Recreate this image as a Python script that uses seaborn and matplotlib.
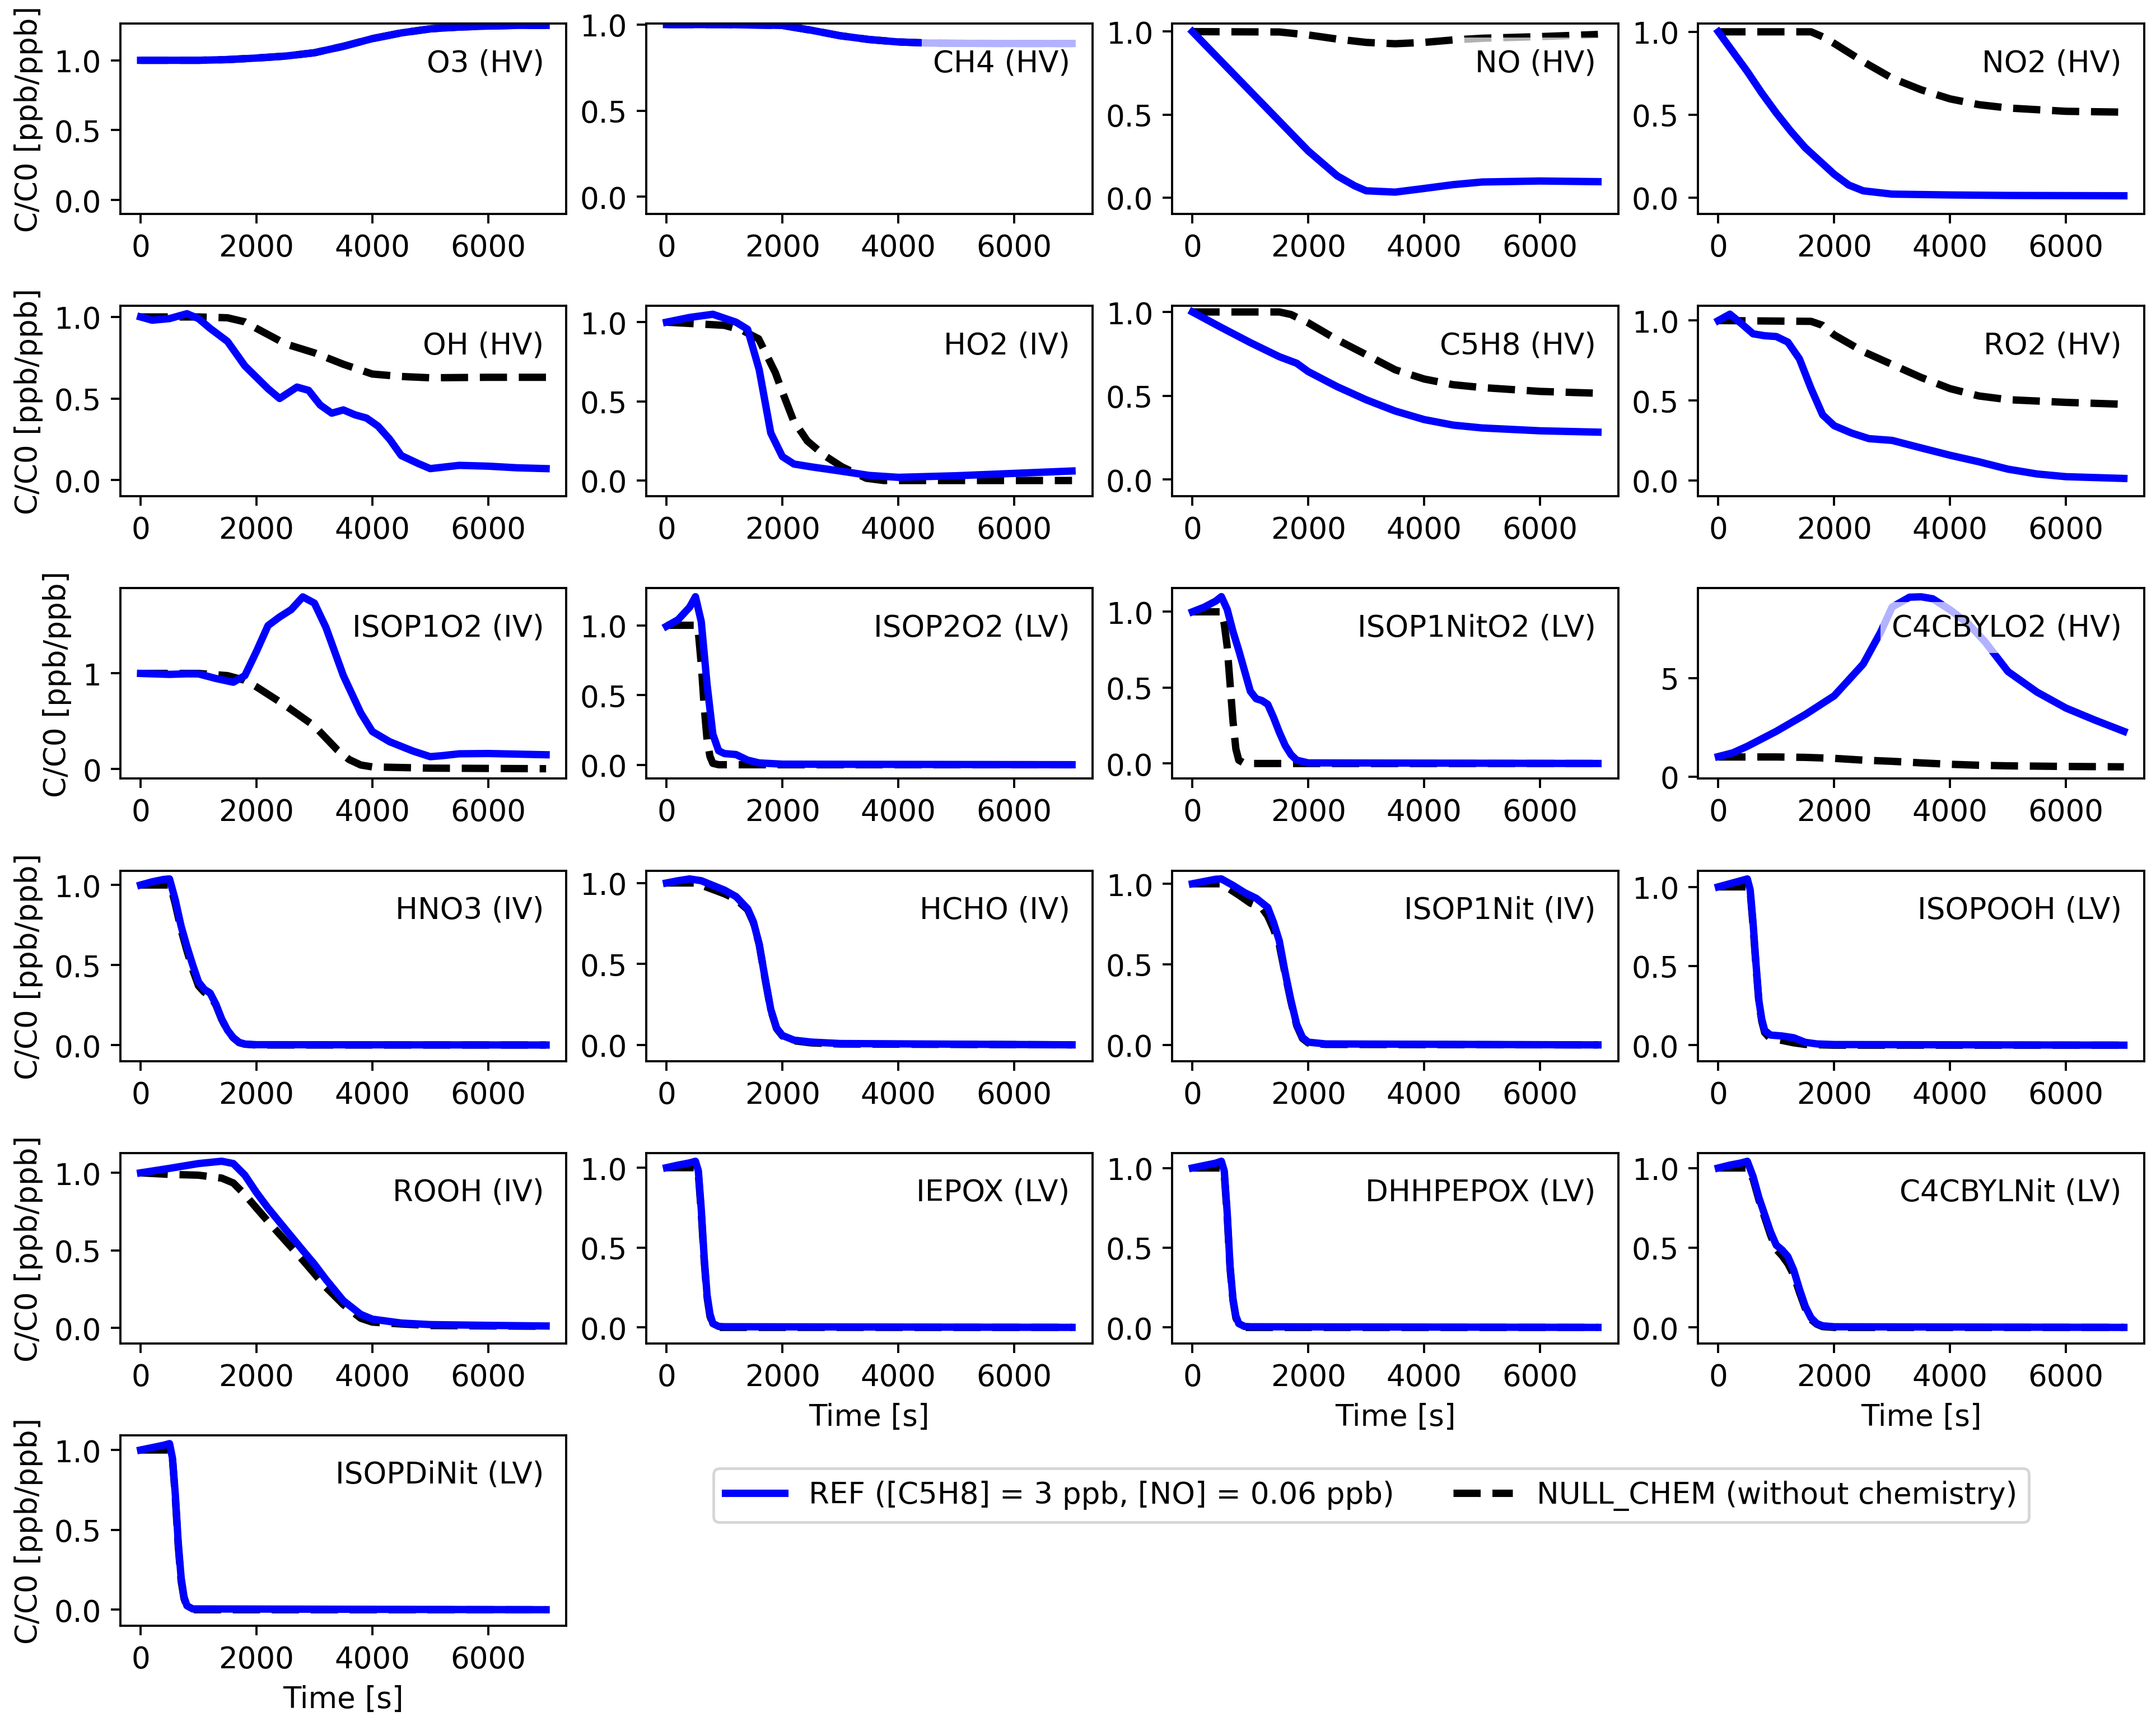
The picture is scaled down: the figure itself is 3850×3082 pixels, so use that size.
import matplotlib
matplotlib.use("Agg")
import matplotlib.pyplot as plt
import seaborn as sns

# ---------------- data ----------------
SPECIES = ["O3", "CH4", "NO", "NO2",
           "OH", "HO2", "C5H8", "RO2",
           "ISOP1O2", "ISOP2O2", "ISOP1NitO2", "C4CBYLO2",
           "HNO3", "HCHO", "ISOP1Nit", "ISOPOOH",
           "ROOH", "IEPOX", "DHHPEPOX", "C4CBYLNit",
           "ISOPDiNit"]
VOLATILITY = ["HV", "HV", "HV", "HV",
              "HV", "IV", "HV", "HV",
              "IV", "LV", "LV", "HV",
              "IV", "IV", "IV", "LV",
              "IV", "LV", "LV", "LV",
              "LV"]

LEGEND_LABELS = ["REF ([C5H8] = 3 ppb, [NO] = 0.06 ppb)", "NULL_CHEM (without chemistry)"]

O3_T_REF = [0, 500, 1000, 1500, 2000, 2500, 3000, 3500, 4000, 4500, 5000, 5500, 6000, 6500, 7000]
O3_REF = [1.0, 1.0, 1.0, 1.005, 1.016, 1.03, 1.054, 1.10, 1.155, 1.196, 1.225, 1.238, 1.245, 1.25, 1.25]
O3_T_NULL = [0, 500, 1000, 1500, 2000, 2500, 3000, 3500, 4000, 4500, 5000, 5500, 6000, 6500, 7000]
O3_NULL = [1.0, 1.0, 1.0, 1.005, 1.016, 1.03, 1.054, 1.10, 1.155, 1.196, 1.225, 1.238, 1.245, 1.25, 1.25]

CH4_T_REF = [0, 1000, 2000, 2500, 3000, 3500, 4000, 4500, 5000, 6000, 7000]
CH4_REF = [1.0, 1.0, 0.995, 0.967, 0.935, 0.913, 0.899, 0.893, 0.891, 0.89, 0.89]
CH4_T_NULL = [0, 1000, 2000, 2500, 3000, 3500, 4000, 4500, 5000, 6000, 7000]
CH4_NULL = [1.0, 1.0, 0.995, 0.967, 0.935, 0.913, 0.899, 0.893, 0.891, 0.89, 0.89]

NO_T_REF = [0, 250, 500, 1000, 1500, 2000, 2500, 2800, 3000, 3500, 4000, 4500, 5000, 6000, 7000]
NO_REF = [1.0, 0.91, 0.82, 0.64, 0.46, 0.28, 0.13, 0.07, 0.04, 0.032, 0.054, 0.077, 0.093, 0.099, 0.095]
NO_T_NULL = [0, 1500, 2000, 2500, 3000, 3500, 4000, 4500, 5000, 6000, 7000]
NO_NULL = [1.0, 0.998, 0.98, 0.955, 0.935, 0.927, 0.935, 0.95, 0.96, 0.97, 0.983]

NO2_T_REF = [0, 250, 500, 750, 1000, 1250, 1500, 1750, 2000, 2250, 2500, 3000, 4000, 5000, 7000]
NO2_REF = [1.0, 0.88, 0.76, 0.63, 0.51, 0.40, 0.30, 0.22, 0.14, 0.075, 0.04, 0.02, 0.015, 0.012, 0.01]
NO2_T_NULL = [0, 1600, 1800, 2000, 2500, 3000, 3500, 4000, 4500, 5000, 6000, 7000]
NO2_NULL = [1.0, 1.0, 0.97, 0.93, 0.82, 0.72, 0.65, 0.595, 0.56, 0.54, 0.52, 0.515]

OH_T_REF = [0, 200, 500, 800, 1000, 1200, 1500, 1800, 2000, 2200, 2400, 2700, 2900, 3100, 3300,
            3500, 3700, 3900, 4100, 4300, 4500, 4800, 5000, 5500, 6000, 6500, 7000]
OH_REF = [1.0, 0.98, 0.99, 1.02, 0.99, 0.93, 0.85, 0.70, 0.63, 0.56, 0.50, 0.57, 0.55, 0.46, 0.41,
          0.43, 0.40, 0.38, 0.33, 0.25, 0.15, 0.10, 0.07, 0.09, 0.085, 0.075, 0.07]
OH_T_NULL = [0, 1000, 1500, 1800, 2000, 2500, 3000, 3500, 4000, 4500, 5000, 6000, 7000]
OH_NULL = [1.0, 1.0, 0.995, 0.97, 0.93, 0.835, 0.78, 0.71, 0.65, 0.635, 0.627, 0.63, 0.63]

HO2_T_REF = [0, 400, 800, 1200, 1400, 1600, 1700, 1800, 2000, 2200, 2500, 3000, 3500, 4000, 5000, 6000, 7000]
HO2_REF = [1.0, 1.03, 1.05, 1.0, 0.955, 0.70, 0.50, 0.30, 0.151, 0.104, 0.086, 0.06, 0.032, 0.02, 0.03, 0.045, 0.06]
HO2_T_NULL = [0, 500, 1000, 1300, 1590, 1880, 2000, 2190, 2430, 2730, 3030, 3450, 3750, 4500, 7000]
HO2_NULL = [1.0, 0.99, 0.98, 0.95, 0.895, 0.68, 0.56, 0.38, 0.25, 0.157, 0.086, 0.014, 0.0, 0.0, 0.0]

C5H8_T_REF = [0, 500, 1000, 1500, 1800, 2000, 2500, 3000, 3500, 4000, 4500, 5000, 6000, 7000]
C5H8_REF = [1.0, 0.907, 0.817, 0.733, 0.694, 0.644, 0.554, 0.476, 0.409, 0.358, 0.325, 0.308, 0.291, 0.283]
C5H8_T_NULL = [0, 1500, 1700, 2000, 2500, 3000, 3500, 4000, 4500, 5000, 6000, 7000]
C5H8_NULL = [1.0, 1.0, 0.985, 0.935, 0.834, 0.745, 0.655, 0.60, 0.566, 0.549, 0.526, 0.515]

RO2_T_REF = [0, 200, 400, 600, 800, 1000, 1200, 1400, 1600, 1800, 2000, 2300, 2600, 3000, 3500,
             4000, 4500, 5000, 5500, 6000, 7000]
RO2_REF = [1.0, 1.04, 0.98, 0.917, 0.905, 0.90, 0.865, 0.76, 0.575, 0.41, 0.342, 0.296, 0.261, 0.25, 0.203,
           0.157, 0.116, 0.07, 0.04, 0.023, 0.012]
RO2_T_NULL = [0, 1600, 1800, 2000, 2500, 3000, 3500, 4000, 4500, 5000, 6000, 7000]
RO2_NULL = [1.0, 0.995, 0.97, 0.91, 0.806, 0.725, 0.644, 0.574, 0.528, 0.505, 0.488, 0.476]

ISOP1O2_T_REF = [0, 500, 800, 1000, 1300, 1600, 1800, 2000, 2200, 2400, 2600, 2800, 3000, 3200, 3500,
                 3800, 4000, 4300, 4700, 5000, 5200, 5500, 6000, 7000]
ISOP1O2_REF = [1.0, 0.99, 0.996, 0.995, 0.947, 0.908, 0.977, 1.23, 1.50, 1.59, 1.667, 1.80, 1.735, 1.48, 0.977,
               0.588, 0.393, 0.286, 0.189, 0.13, 0.14, 0.16, 0.163, 0.15]
ISOP1O2_T_NULL = [0, 1000, 1500, 1800, 2000, 2500, 3000, 3400, 3600, 3800, 4000, 5000, 7000]
ISOP1O2_NULL = [1.0, 1.0, 0.977, 0.928, 0.86, 0.665, 0.451, 0.198, 0.10, 0.043, 0.023, 0.01, 0.004]

ISOP2O2_T_REF = [0, 200, 400, 500, 600, 700, 800, 900, 1000, 1200, 1400, 1600, 2000, 7000]
ISOP2O2_REF = [0.993, 1.04, 1.13, 1.205, 1.026, 0.576, 0.219, 0.10, 0.08, 0.073, 0.033, 0.013, 0.004, 0.0]
ISOP2O2_T_NULL = [0, 500, 550, 600, 650, 700, 750, 800, 900, 7000]
ISOP2O2_NULL = [1.0, 1.0, 0.95, 0.72, 0.42, 0.18, 0.06, 0.01, 0.0, 0.0]

ISOP1NitO2_T_REF = [0, 200, 400, 500, 600, 700, 800, 900, 1000, 1100, 1200, 1300, 1400, 1500, 1600,
                    1700, 1800, 2000, 7000]
ISOP1NitO2_REF = [1.0, 1.03, 1.07, 1.10, 1.016, 0.87, 0.746, 0.611, 0.476, 0.427, 0.415, 0.39, 0.304, 0.206, 0.12,
                  0.059, 0.022, 0.004, 0.0]
ISOP1NitO2_T_NULL = [0, 500, 550, 600, 650, 700, 750, 800, 900, 7000]
ISOP1NitO2_NULL = [1.0, 1.0, 0.918, 0.77, 0.525, 0.28, 0.096, 0.022, 0.0, 0.0]

C4CBYLO2_T_REF = [0, 250, 500, 1000, 1500, 2000, 2500, 2800, 3000, 3300, 3500, 3700, 4000, 4300, 4600,
                  5000, 5500, 6000, 6500, 7000]
C4CBYLO2_REF = [1.02, 1.21, 1.54, 2.30, 3.15, 4.10, 5.71, 7.32, 8.6, 9.1, 9.12, 9.02, 8.46, 7.79, 6.85,
                5.33, 4.29, 3.48, 2.87, 2.30]
C4CBYLO2_T_NULL = [0, 1000, 1500, 2000, 2500, 3000, 3500, 4000, 4500, 5000, 6000, 7000]
C4CBYLO2_NULL = [1.0, 1.0, 0.98, 0.93, 0.84, 0.78, 0.70, 0.63, 0.58, 0.55, 0.52, 0.50]

HNO3_T_REF = [0, 200, 400, 500, 600, 700, 800, 900, 1000, 1100, 1200, 1300, 1400, 1500, 1600, 1700, 1800, 2000, 7000]
HNO3_REF = [1.0, 1.02, 1.035, 1.038, 0.905, 0.742, 0.615, 0.5, 0.394, 0.348, 0.325, 0.255, 0.162, 0.093, 0.046,
            0.017, 0.006, 0.002, 0.0]
HNO3_T_NULL = [0, 500, 550, 600, 700, 800, 900, 1000, 1100, 1200, 1300, 1400, 1500, 1600, 1700, 1800, 2000, 7000]
HNO3_NULL = [1.0, 1.0, 0.95, 0.88, 0.72, 0.59, 0.47, 0.37, 0.33, 0.31, 0.25, 0.16, 0.09, 0.045, 0.015, 0.005, 0.0, 0.0]

HCHO_T_REF = [0, 200, 400, 600, 800, 1000, 1200, 1400, 1500, 1600, 1700, 1800, 1900, 2000, 2200, 2500, 3000, 7000]
HCHO_REF = [1.0, 1.014, 1.025, 1.014, 0.985, 0.956, 0.916, 0.841, 0.76, 0.622, 0.415, 0.219, 0.104, 0.058,
            0.029, 0.017, 0.008, 0.0]
HCHO_T_NULL = [0, 500, 800, 1000, 1200, 1400, 1500, 1600, 1700, 1800, 1900, 2000, 2200, 2500, 3000, 7000]
HCHO_NULL = [1.0, 1.0, 0.96, 0.933, 0.90, 0.835, 0.755, 0.62, 0.41, 0.215, 0.1, 0.055, 0.025, 0.012, 0.005, 0.0]

ISOP1Nit_T_REF = [0, 200, 400, 500, 700, 900, 1100, 1300, 1400, 1500, 1600, 1700, 1800, 1900, 2000, 2300, 7000]
ISOP1Nit_REF = [1.0, 1.014, 1.028, 1.03, 0.99, 0.945, 0.91, 0.853, 0.76, 0.645, 0.45, 0.276, 0.127, 0.046,
                0.017, 0.006, 0.0]
ISOP1Nit_T_NULL = [0, 500, 800, 1000, 1200, 1300, 1400, 1500, 1600, 1700, 1800, 1900, 2000, 2300, 7000]
ISOP1Nit_NULL = [1.0, 1.0, 0.93, 0.88, 0.85, 0.80, 0.72, 0.62, 0.44, 0.27, 0.12, 0.04, 0.012, 0.003, 0.0]

ISOPOOH_T_REF = [0, 200, 400, 500, 550, 600, 650, 700, 750, 800, 900, 1100, 1300, 1500, 1700, 2000, 7000]
ISOPOOH_REF = [1.0, 1.02, 1.04, 1.05, 0.98, 0.77, 0.514, 0.28, 0.163, 0.093, 0.064, 0.058, 0.047, 0.018,
               0.008, 0.004, 0.0]
ISOPOOH_T_NULL = [0, 500, 550, 600, 650, 700, 750, 800, 900, 1100, 1300, 1500, 2000, 7000]
ISOPOOH_NULL = [1.0, 1.0, 0.97, 0.75, 0.5, 0.27, 0.15, 0.08, 0.04, 0.03, 0.015, 0.005, 0.0, 0.0]

ROOH_T_REF = [0, 500, 1000, 1400, 1600, 1800, 2000, 2200, 2500, 2800, 3000, 3200, 3500, 3800, 4000,
              4500, 5000, 6000, 7000]
ROOH_REF = [1.0, 1.029, 1.06, 1.075, 1.06, 0.985, 0.873, 0.773, 0.636, 0.5, 0.411, 0.312, 0.175, 0.087, 0.056,
            0.031, 0.021, 0.016, 0.012]
ROOH_T_NULL = [0, 500, 1000, 1400, 1600, 1800, 2000, 2200, 2500, 2800, 3000, 3200, 3500, 3800, 4000,
               4500, 5000, 7000]
ROOH_NULL = [1.0, 0.99, 0.985, 0.966, 0.935, 0.86, 0.773, 0.687, 0.562, 0.437, 0.35, 0.262, 0.15, 0.062, 0.037,
             0.025, 0.015, 0.01]

IEPOX_T_REF = [0, 200, 400, 500, 550, 600, 650, 700, 750, 800, 900, 1000, 7000]
IEPOX_REF = [1.0, 1.016, 1.03, 1.04, 0.98, 0.74, 0.44, 0.203, 0.084, 0.024, 0.006, 0.004, 0.0]
IEPOX_T_NULL = [0, 500, 550, 600, 650, 700, 750, 800, 900, 7000]
IEPOX_NULL = [1.0, 1.0, 0.96, 0.72, 0.42, 0.19, 0.07, 0.02, 0.0, 0.0]

DHHPEPOX_T_REF = [0, 200, 400, 500, 550, 600, 650, 700, 750, 800, 900, 1000, 7000]
DHHPEPOX_REF = [1.0, 1.015, 1.03, 1.042, 0.98, 0.72, 0.383, 0.18, 0.072, 0.024, 0.006, 0.004, 0.0]
DHHPEPOX_T_NULL = [0, 500, 550, 600, 650, 700, 750, 800, 900, 7000]
DHHPEPOX_NULL = [1.0, 1.0, 0.96, 0.70, 0.37, 0.17, 0.06, 0.02, 0.0, 0.0]

C4CBYLNit_T_REF = [0, 200, 400, 500, 600, 700, 800, 900, 1000, 1100, 1200, 1300, 1400, 1500, 1600,
                   1700, 1800, 2000, 7000]
C4CBYLNit_REF = [1.0, 1.018, 1.032, 1.042, 0.946, 0.814, 0.707, 0.6, 0.516, 0.486, 0.444, 0.36, 0.24, 0.132, 0.06,
                 0.024, 0.01, 0.004, 0.0]
C4CBYLNit_T_NULL = [0, 500, 600, 700, 800, 900, 1000, 1100, 1200, 1300, 1400, 1500, 1600, 1700, 1800, 2000, 7000]
C4CBYLNit_NULL = [1.0, 1.0, 0.93, 0.80, 0.69, 0.58, 0.49, 0.45, 0.40, 0.33, 0.22, 0.12, 0.05, 0.02, 0.005, 0.0, 0.0]

ISOPDiNit_T_REF = [0, 200, 400, 500, 550, 600, 650, 700, 750, 800, 900, 7000]
ISOPDiNit_REF = [1.0, 1.015, 1.03, 1.04, 0.95, 0.72, 0.42, 0.2, 0.08, 0.025, 0.005, 0.0]
ISOPDiNit_T_NULL = [0, 500, 550, 600, 650, 700, 750, 800, 900, 7000]
ISOPDiNit_NULL = [1.0, 1.0, 0.95, 0.70, 0.40, 0.18, 0.07, 0.02, 0.0, 0.0]

# ---------------- figure ----------------
plt.rcParams.update({
    "font.family": ["DejaVu Sans"],
    "font.size": 10.9,
})

LW = 2.7
fig, axes = plt.subplots(6, 4, figsize=(11.0, 3083 / 350), dpi=350)
fig.subplots_adjust(left=0.0558, right=0.9945, top=0.986, bottom=0.0581,
                    wspace=0.179, hspace=0.483)

g = globals()
for i, (name, vol) in enumerate(zip(SPECIES, VOLATILITY)):
    ax = axes[i // 4, i % 4]
    t_null, c_null = g[name + "_T_NULL"], g[name + "_NULL"]
    t_ref, c_ref = g[name + "_T_REF"], g[name + "_REF"]
    sns.lineplot(x=t_null, y=c_null, ax=ax, color="black", linestyle="--",
                 linewidth=LW, estimator=None, sort=False)
    sns.lineplot(x=t_ref, y=c_ref, ax=ax, color="blue", linewidth=LW,
                 estimator=None, sort=False)
    ax.set_ylim(bottom=-0.1)
    ax.set_xlabel("")
    ax.set_ylabel("")
    ax.text(0.95, 0.75, f"{name} ({vol})", transform=ax.transAxes,
            ha="right", va="baseline",
            bbox=dict(facecolor="white", alpha=0.7, edgecolor="none"))

for r in range(6):
    axes[r, 0].set_ylabel("C/C0 [ppb/ppb]")
for c in range(1, 4):
    axes[4, c].set_xlabel("Time [s]")
    axes[5, c].axis("off")
axes[5, 0].set_xlabel("Time [s]")

lines0 = axes[0, 2].get_lines()
handles = [lines0[1], lines0[0]]
fig.legend(handles, LEGEND_LABELS, loc="center", bbox_to_anchor=(0.636, 0.1336), ncol=2)

fig.savefig("out.png", dpi=350)
